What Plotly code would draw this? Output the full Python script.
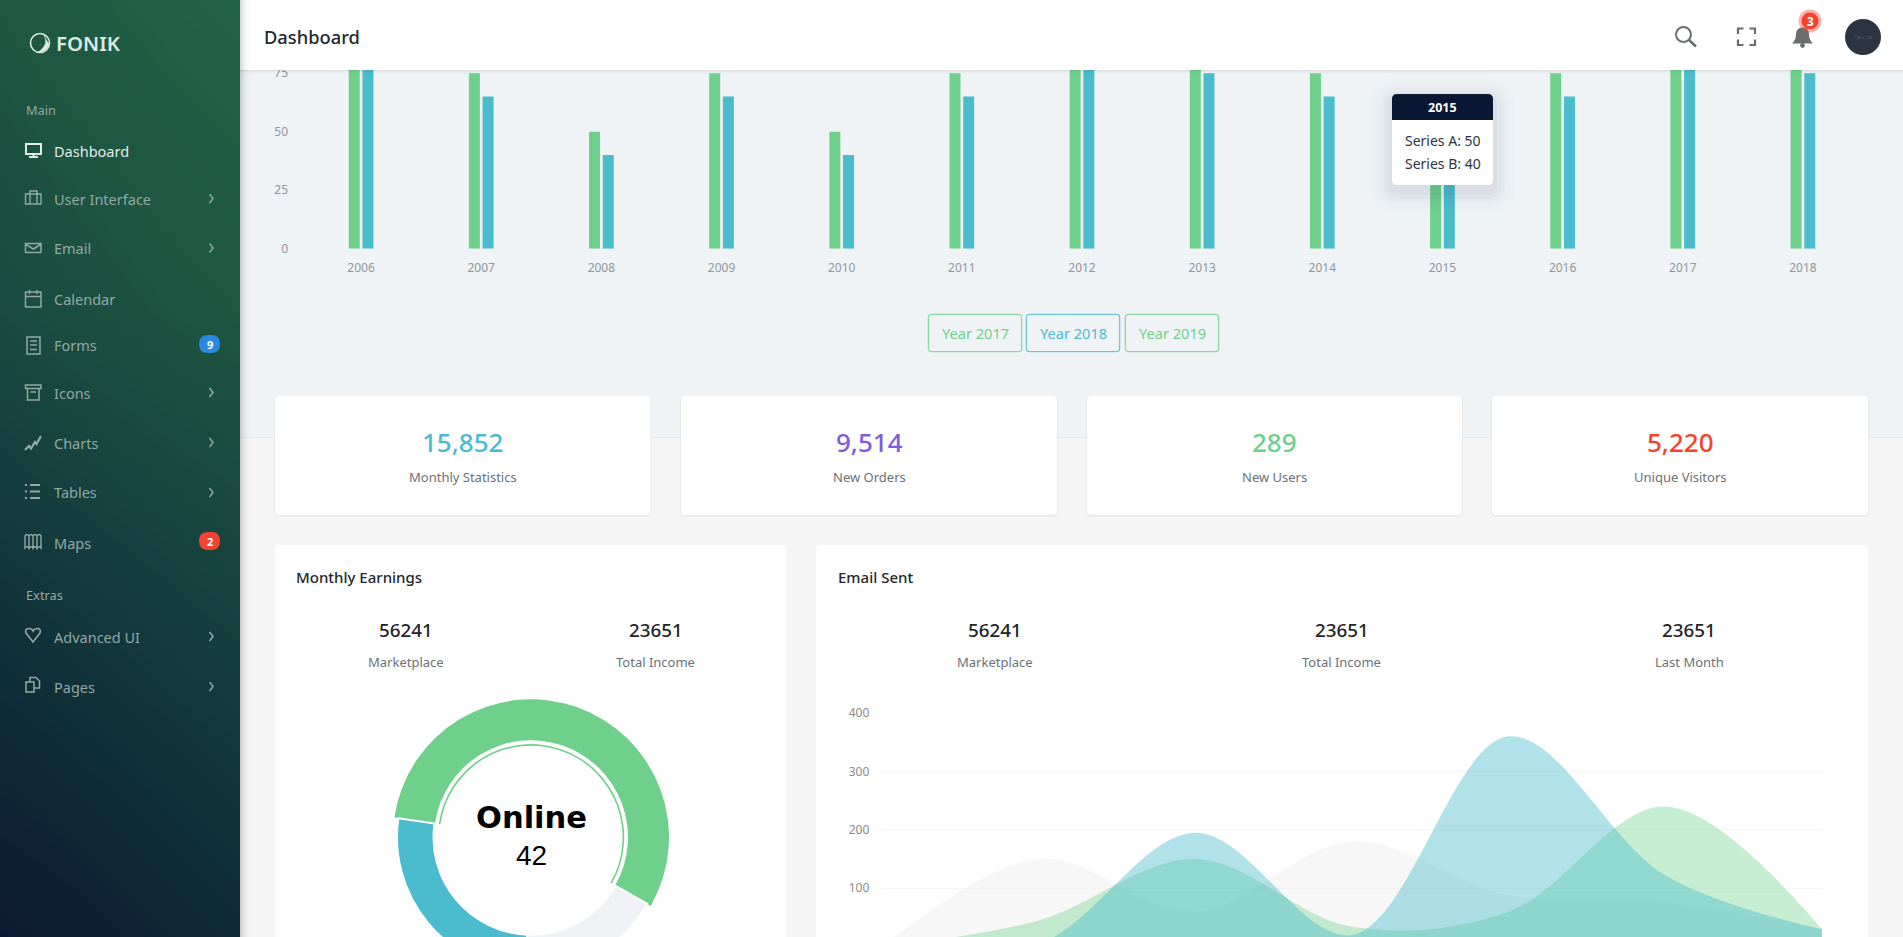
import re

import plotly.graph_objects as go

W, H = 1903, 1000  # canvas runs past the 937px window, the original page scrolls too
FONT = "Noto Sans"

GREEN = "#6fd08c"
BLUE = "#4bbbce"
PURPLE = "#7f5be0"
RED = "#f4432f"
GREY = "#f0f1f4"
NAVY = "#0b1833"

# bar chart
bar_years = ["2006", "2007", "2008", "2009", "2010", "2011", "2012", "2013", "2014", "2015", "2016", "2017", "2018"]
series_a = [100, 75, 50, 75, 50, 75, 100, 100, 75, 50, 75, 100, 100]
series_b = [90, 65, 40, 65, 40, 65, 90, 75, 65, 40, 65, 90, 75]
bar_ticks = [0, 25, 50, 75, 100]

# area chart
area_years = [2007, 2008, 2009, 2010, 2011, 2012, 2013]
area_grey = [0, 150, 60, 180, 88, 75, 30]
area_green = [0, 45, 150, 34, 60, 240, 30]
area_blue = [0, 5, 195, 20, 360, 122, 30]
area_ticks = [100, 200, 300, 400]

# donut
donut_labels = ["Online", "Offline", "Marketing"]
donut_values = [42, 13, 20]

# stat cards
stat_values = ["15,852", "9,514", "289", "5,220"]
stat_labels = ["Monthly Statistics", "New Orders", "New Users", "Unique Visitors"]
stat_colors = [BLUE, PURPLE, GREEN, RED]

# sidebar gradient corners (0 dark navy, 1 green)
side_x = [-60, 60, 180, 300]
side_y = [0, 312, 624, 937]
side_z = [
    [0.80, 0.88, 0.95, 1.00],
    [0.62, 0.72, 0.80, 0.86],
    [0.30, 0.40, 0.50, 0.60],
    [0.00, 0.08, 0.20, 0.32],
]


def fx(x):
    return x / W


def fy(y):
    return 1 - y / H


shapes = []
notes = []


def rect(x0, y0, x1, y1, fill, layer="below", line=None, lw=0):
    shapes.append(dict(type="rect", xref="paper", yref="paper", x0=fx(x0), x1=fx(x1), y0=fy(y0), y1=fy(y1),
                       fillcolor=fill, line=dict(width=lw, color=line or "rgba(0,0,0,0)"), layer=layer))


def circle(cx, cy, rx, fill, layer="above", ry=None, line=None, lw=0):
    ry = ry or rx
    shapes.append(dict(type="circle", xref="paper", yref="paper", x0=fx(cx - rx), x1=fx(cx + rx),
                       y0=fy(cy - ry), y1=fy(cy + ry), fillcolor=fill,
                       line=dict(width=lw, color=line or "rgba(0,0,0,0)"), layer=layer))


def path(d, fill="rgba(0,0,0,0)", line=None, lw=0, layer="above"):
    # path in pixels, absolute M L Q C only
    nums = iter(range(100000))

    def conv(m):
        v = float(m.group(0))
        return f"{fx(v):.5f}" if next(nums) % 2 == 0 else f"{fy(v):.5f}"

    shapes.append(dict(type="path", xref="paper", yref="paper", path=re.sub(r"-?\d+\.?\d*", conv, d),
                       fillcolor=fill, line=dict(width=lw, color=line or "rgba(0,0,0,0)"), layer=layer))


def rrect(x0, y0, x1, y1, r, **kw):
    path(f"M{x0 + r} {y0} L{x1 - r} {y0} Q{x1} {y0} {x1} {y0 + r} L{x1} {y1 - r} Q{x1} {y1} {x1 - r} {y1} "
         f"L{x0 + r} {y1} Q{x0} {y1} {x0} {y1 - r} L{x0} {y0 + r} Q{x0} {y0} {x0 + r} {y0} Z", **kw)


def txt(x, y, s, size, color, anchor="left", family=FONT, weight=400):
    notes.append(dict(xref="paper", yref="paper", x=fx(x), y=fy(y), text=s, showarrow=False,
                      xanchor=anchor, yanchor="middle", borderpad=0,
                      font=dict(size=size, color=color, family=family, weight=weight)))


# page background
rect(240, 70, W, 437, "#eff3f6")
rect(240, 437, W, 438, "#e6e8ea")

# stat cards
card_x = [(275, 650.5), (681, 1057), (1087, 1462), (1492, 1868)]
for (x0, x1), v, lab, col in zip(card_x, stat_values, stat_labels, stat_colors):
    rrect(x0 - 1, 396, x1 + 1, 516.5, 5, fill="rgba(0,0,0,0.045)", layer="below")
    rrect(x0, 396, x1, 515, 4, fill="white", layer="below")
    txt((x0 + x1) / 2, 442, v, 26, col, "center", weight=500)
    txt((x0 + x1) / 2, 477, lab, 13, "#6c7175", "center")

# big panels
rrect(275, 545, 786, H, 4, fill="white", layer="below")
rrect(816, 545, 1868, H, 4, fill="white", layer="below")

txt(295, 576.5, "Monthly Earnings", 15, "#23272b", weight=500)
txt(405.6, 630, "56241", 18.8, "#1f2328", "center", weight=500)
txt(405.6, 662, "Marketplace", 13, "#6c7175", "center")
txt(655.6, 630, "23651", 18.8, "#1f2328", "center", weight=500)
txt(655.6, 662, "Total Income", 13, "#6c7175", "center")

txt(836.5, 576.5, "Email Sent", 15, "#23272b", weight=500)
for cx, v, lab in [(994.8, "56241", "Marketplace"), (1341.6, "23651", "Total Income"), (1689, "23651", "Last Month")]:
    txt(cx, 630, v, 18.8, "#1f2328", "center", weight=500)
    txt(cx, 662, lab, 13, "#6c7175", "center")

# donut centre
txt(531, 817, "Online", 30.5, "#000000", "center", family="DejaVu Sans", weight=700)
txt(531, 855, "42", 28, "#000000", "center", family="Liberation Sans")

# year buttons
for x0, x1, lab, col in [(928.3, 1021.7, "Year 2017", GREEN), (1026.3, 1119.7, "Year 2018", BLUE),
                         (1125.3, 1218.7, "Year 2019", GREEN)]:
    rrect(x0, 314.3, x1, 351.7, 3, line=col, lw=1, layer="below")
    txt((x0 + x1) / 2, 333, lab, 14.6, col, "center")

# tooltip
for grow, alpha in [(22, 0.012), (17, 0.016), (12, 0.02), (8, 0.025), (4, 0.03)]:
    rrect(1392 - grow, 94 - grow + 6, 1493 + grow, 185 + grow + 6, 6 + grow, fill=f"rgba(30,50,80,{alpha})")
rrect(1392, 94, 1493, 185, 5, fill="white")
path("M1392 120 L1392 99 Q1392 94 1397 94 L1488 94 Q1493 94 1493 99 L1493 120 Z", fill=NAVY)
txt(1442.5, 107.5, "2015", 12.5, "white", "center", weight=700)
txt(1442.5, 140.5, "Series A: 50", 14, "#2c3440", "center")
txt(1442.5, 163, "Series B: 40", 14, "#2c3440", "center")

# header
rect(240, 0, W, 70, "white", layer="above")
for i, a in enumerate([0.07, 0.045, 0.025, 0.012]):
    rect(240, 70 + i, W, 71 + i, f"rgba(0,0,0,{a})", layer="above")
txt(263, 36, "Dashboard", 18.3, "#23272b", weight=500)

# sidebar shadow
for i, a in enumerate([0.16, 0.13, 0.10, 0.075, 0.055, 0.04, 0.03, 0.02, 0.012, 0.006]):
    rect(240 + i, 0, 241 + i, H, f"rgba(0,0,0,{a})", layer="above")

# header icons
ICON = "#6a6d70"
circle(1683.5, 34.5, 7.5, "rgba(0,0,0,0)", line=ICON, lw=2)
path("M1689 40 L1696 46.5", line=ICON, lw=2.6)
for d in ["M1738 34 L1738 28.5 L1743.5 28.5", "M1749.5 28.5 L1755 28.5 L1755 34",
          "M1755 39.5 L1755 45 L1749.5 45", "M1743.5 45 L1738 45 L1738 39.5"]:
    path(d, line=ICON, lw=2.2)
path("M1792 43.5 Q1796 40 1796 34 Q1796 28 1802.5 27.5 Q1809 28 1809 34 Q1809 40 1813 43.5 Z", fill=ICON)
circle(1802.5, 45.5, 2.4, ICON)
circle(1810, 21, 11.5, "rgba(244,67,47,0.4)")
circle(1810, 21, 8.5, RED)
txt(1810, 21, "3", 11.5, "white", "center", weight=700)
circle(1863, 37, 18, "#2b3440")
txt(1863, 37, "128 x 128", 4, "#5d6875", "center")

# sidebar text and icons
SIDE = "#92a9a5"
LIT = "#e4ecea"
txt(25, 109.5, "Main", 12.8, SIDE)
txt(25, 594.5, "Extras", 12.8, SIDE)
menu = [("Dashboard", 151.5, False), ("User Interface", 198.5, True), ("Email", 248, True), ("Calendar", 298.5, False),
        ("Forms", 345.5, False), ("Icons", 392.5, True), ("Charts", 442.5, True), ("Tables", 492.5, True),
        ("Maps", 542.5, False), ("Advanced UI", 636.5, True), ("Pages", 686.5, True)]
for name, y, arrow in menu:
    txt(53, y, name, 14.5, LIT if name == "Dashboard" else SIDE)
    if arrow:
        path(f"M209.5 {y - 4.5} L213 {y} L209.5 {y + 4.5}", line=SIDE, lw=1.5)

path("M26 144 L41 144 L41 154 L26 154 Z", line=LIT, lw=2)
path("M29 157 L38 157 M33.5 154 L33.5 157", line=LIT, lw=2)
path("M25.5 194 L41 194 L41 204 L25.5 204 Z M30 194 L30 204 M37 194 L37 204 M30 194 L30 191 L37 191 L37 194", line=SIDE, lw=1.4)
path("M25.5 243.5 L41 243.5 L41 252.5 L25.5 252.5 Z M26 244.5 L33.3 249 L40.5 244.5", line=SIDE, lw=1.5)
path("M25.5 292 L41 292 L41 307 L25.5 307 Z M25.5 296.5 L41 296.5 M29.5 290 L29.5 294 M37 290 L37 294", line=SIDE, lw=1.5)
path("M27 337 L40 337 L40 354 L27 354 Z M30 341 L37 341 M30 345 L37 345 M30 349.5 L37 349.5", line=SIDE, lw=1.5)
path("M25.5 385 L41 385 L41 388.5 L25.5 388.5 Z M27.5 388.5 L27.5 400 L39 400 L39 388.5 M30.5 392 L36 392", line=SIDE, lw=1.5)
path("M25 450 L29 446 L31 448.5 L35 442 L36.5 444 L41 436", line=SIDE, lw=2.2)
path("M25 485 L27 485 M25 491.5 L27 491.5 M25 498 L27 498 M30 485 L40 485 M30 491.5 L40 491.5 M30 498 L40 498", line=SIDE, lw=2)
path("M25 536 Q27 533 29 536 L29 548 Q27 545.5 25 548 Z M29 536 Q31 533 33 536 L33 548 Q31 545.5 29 548 Z "
     "M33 536 Q35.5 533 37 536 L37 548 Q35.5 545.5 33 548 Z M37 536 Q39 533 41 536 L41 548 Q39 545.5 37 548 Z", line=SIDE, lw=1.4)
path("M33 642 L26 633 Q24.5 628.5 29 628.5 Q32 628.5 33 631 Q34.5 628.5 37 628.5 Q41.5 628.5 40 633 Z", line=SIDE, lw=1.6)
path("M26 682 L34 682 L34 692 L26 692 Z M30 682 L30 677.5 L36 677.5 L39.5 681 L39.5 688 L34 688", line=SIDE, lw=1.5)
rrect(199, 335, 220, 353, 9, fill="#2b88df")
txt(209.5, 344, "9", 11, "white", "center", weight=700)
rrect(199, 532, 220, 550, 9, fill=RED)
txt(209.5, 541, "2", 11, "white", "center", weight=700)

# logo
circle(40, 43, 9.5, "rgba(0,0,0,0)", line="#dfe8e5", lw=1.6)
path("M44 35 Q50 44 38 52.5 Q46 52 49 44", fill="#dfe8e5", line="#dfe8e5", lw=0.8)
txt(55, 43, "FONIK", 20.4, "#dfe8e5", weight=600)

fig = go.Figure()

# sidebar gradient
fig.add_trace(go.Heatmap(
    x=side_x, y=side_y, z=side_z, xaxis="x3", yaxis="y3", zsmooth="best", showscale=False, hoverinfo="skip",
    zmin=0, zmax=1, colorscale=[[0, "#091731"], [0.5, "#153c3e"], [1, "#236444"]],
))

# bars
fig.add_trace(go.Bar(x=bar_years, y=series_a, name="Series A", marker=dict(color=GREEN, line=dict(width=0))))
fig.add_trace(go.Bar(x=bar_years, y=series_b, name="Series B", marker=dict(color=BLUE, line=dict(width=0))))

# areas
for vals, col in [(area_grey, "rgba(238,238,238,0.45)"), (area_green, "rgba(111,208,140,0.39)"),
                  (area_blue, "rgba(75,187,206,0.43)")]:
    fig.add_trace(go.Scatter(
        x=area_years, y=vals, xaxis="x2", yaxis="y2", mode="lines", fill="tozeroy", fillcolor=col,
        line=dict(width=0, shape="spline", smoothing=1), hoverinfo="skip",
    ))


# donut, the selected slice has a bigger radius and a thin inner arc
def donut(colors, outer, inner, widths):
    cx, cy = 531, 837.3
    fig.add_trace(go.Pie(
        values=donut_values, labels=donut_labels, sort=False, direction="clockwise", rotation=278.2,
        hole=inner / outer, textinfo="none", hoverinfo="skip", showlegend=False,
        domain=dict(x=[fx(cx - outer), fx(cx + outer)], y=[fy(cy + outer), fy(cy - outer)]),
        marker=dict(colors=colors, line=dict(color="white", width=widths)),
    ))


NONE = "rgba(0,0,0,0)"
donut([GREEN, NONE, NONE], 138, 97, [0, 0, 0])
donut([NONE, GREY, BLUE], 134, 97.5, [0, 2, 2])
donut([GREEN, NONE, NONE], 93.2, 91.6, [0, 0, 0])

bar_left, bar_right = 301, 1863
fig.update_layout(
    width=W, height=H, autosize=False, margin=dict(l=0, r=0, t=0, b=0, pad=0),
    paper_bgcolor="#f5f5f5", plot_bgcolor="rgba(0,0,0,0)", showlegend=False, hovermode=False,
    barmode="group", bargap=0.772, bargroupgap=0.197, font=dict(family=FONT),
    shapes=shapes, annotations=notes,
    xaxis=dict(domain=[fx(bar_left), fx(bar_right)], type="category", categoryorder="array", categoryarray=bar_years,
               showgrid=False, zeroline=False, showline=False, ticks="", ticklabelstandoff=10, automargin=False,
               tickfont=dict(size=12, color="#8e979d"), anchor="y"),
    yaxis=dict(domain=[fy(248.7), fy(14.7)], range=[0, 100], tickvals=bar_ticks, showgrid=False, zeroline=False,
               showline=False, ticks="", ticklabelstandoff=12, automargin=False,
               tickfont=dict(size=12, color="#8e979d"), anchor="x"),
    xaxis2=dict(domain=[fx(882.3), fx(1822)], range=[2007, 2013], showgrid=False, zeroline=False, showline=False,
                ticks="", showticklabels=False, automargin=False, anchor="y2"),
    yaxis2=dict(domain=[fy(946.7), fy(713)], range=[0, 400], tickvals=area_ticks, gridcolor="#f5f5f5",
                gridwidth=1, zeroline=False, showline=False, ticks="", ticklabelstandoff=12, automargin=False,
                tickfont=dict(size=12, color="#8a8a8a"), anchor="x2"),
    xaxis3=dict(domain=[0, fx(240)], range=[0, 240], visible=False, automargin=False, anchor="y3"),
    yaxis3=dict(domain=[fy(937), 1], range=[937, 0], visible=False, automargin=False, anchor="x3"),
)

page = "document.documentElement.style.overflow='hidden';document.body.style.margin='0';" \
       "document.body.style.height='937px';document.body.style.overflow='hidden';"
fig.write_html("out.html", post_script=page, config=dict(displayModeBar=False))
